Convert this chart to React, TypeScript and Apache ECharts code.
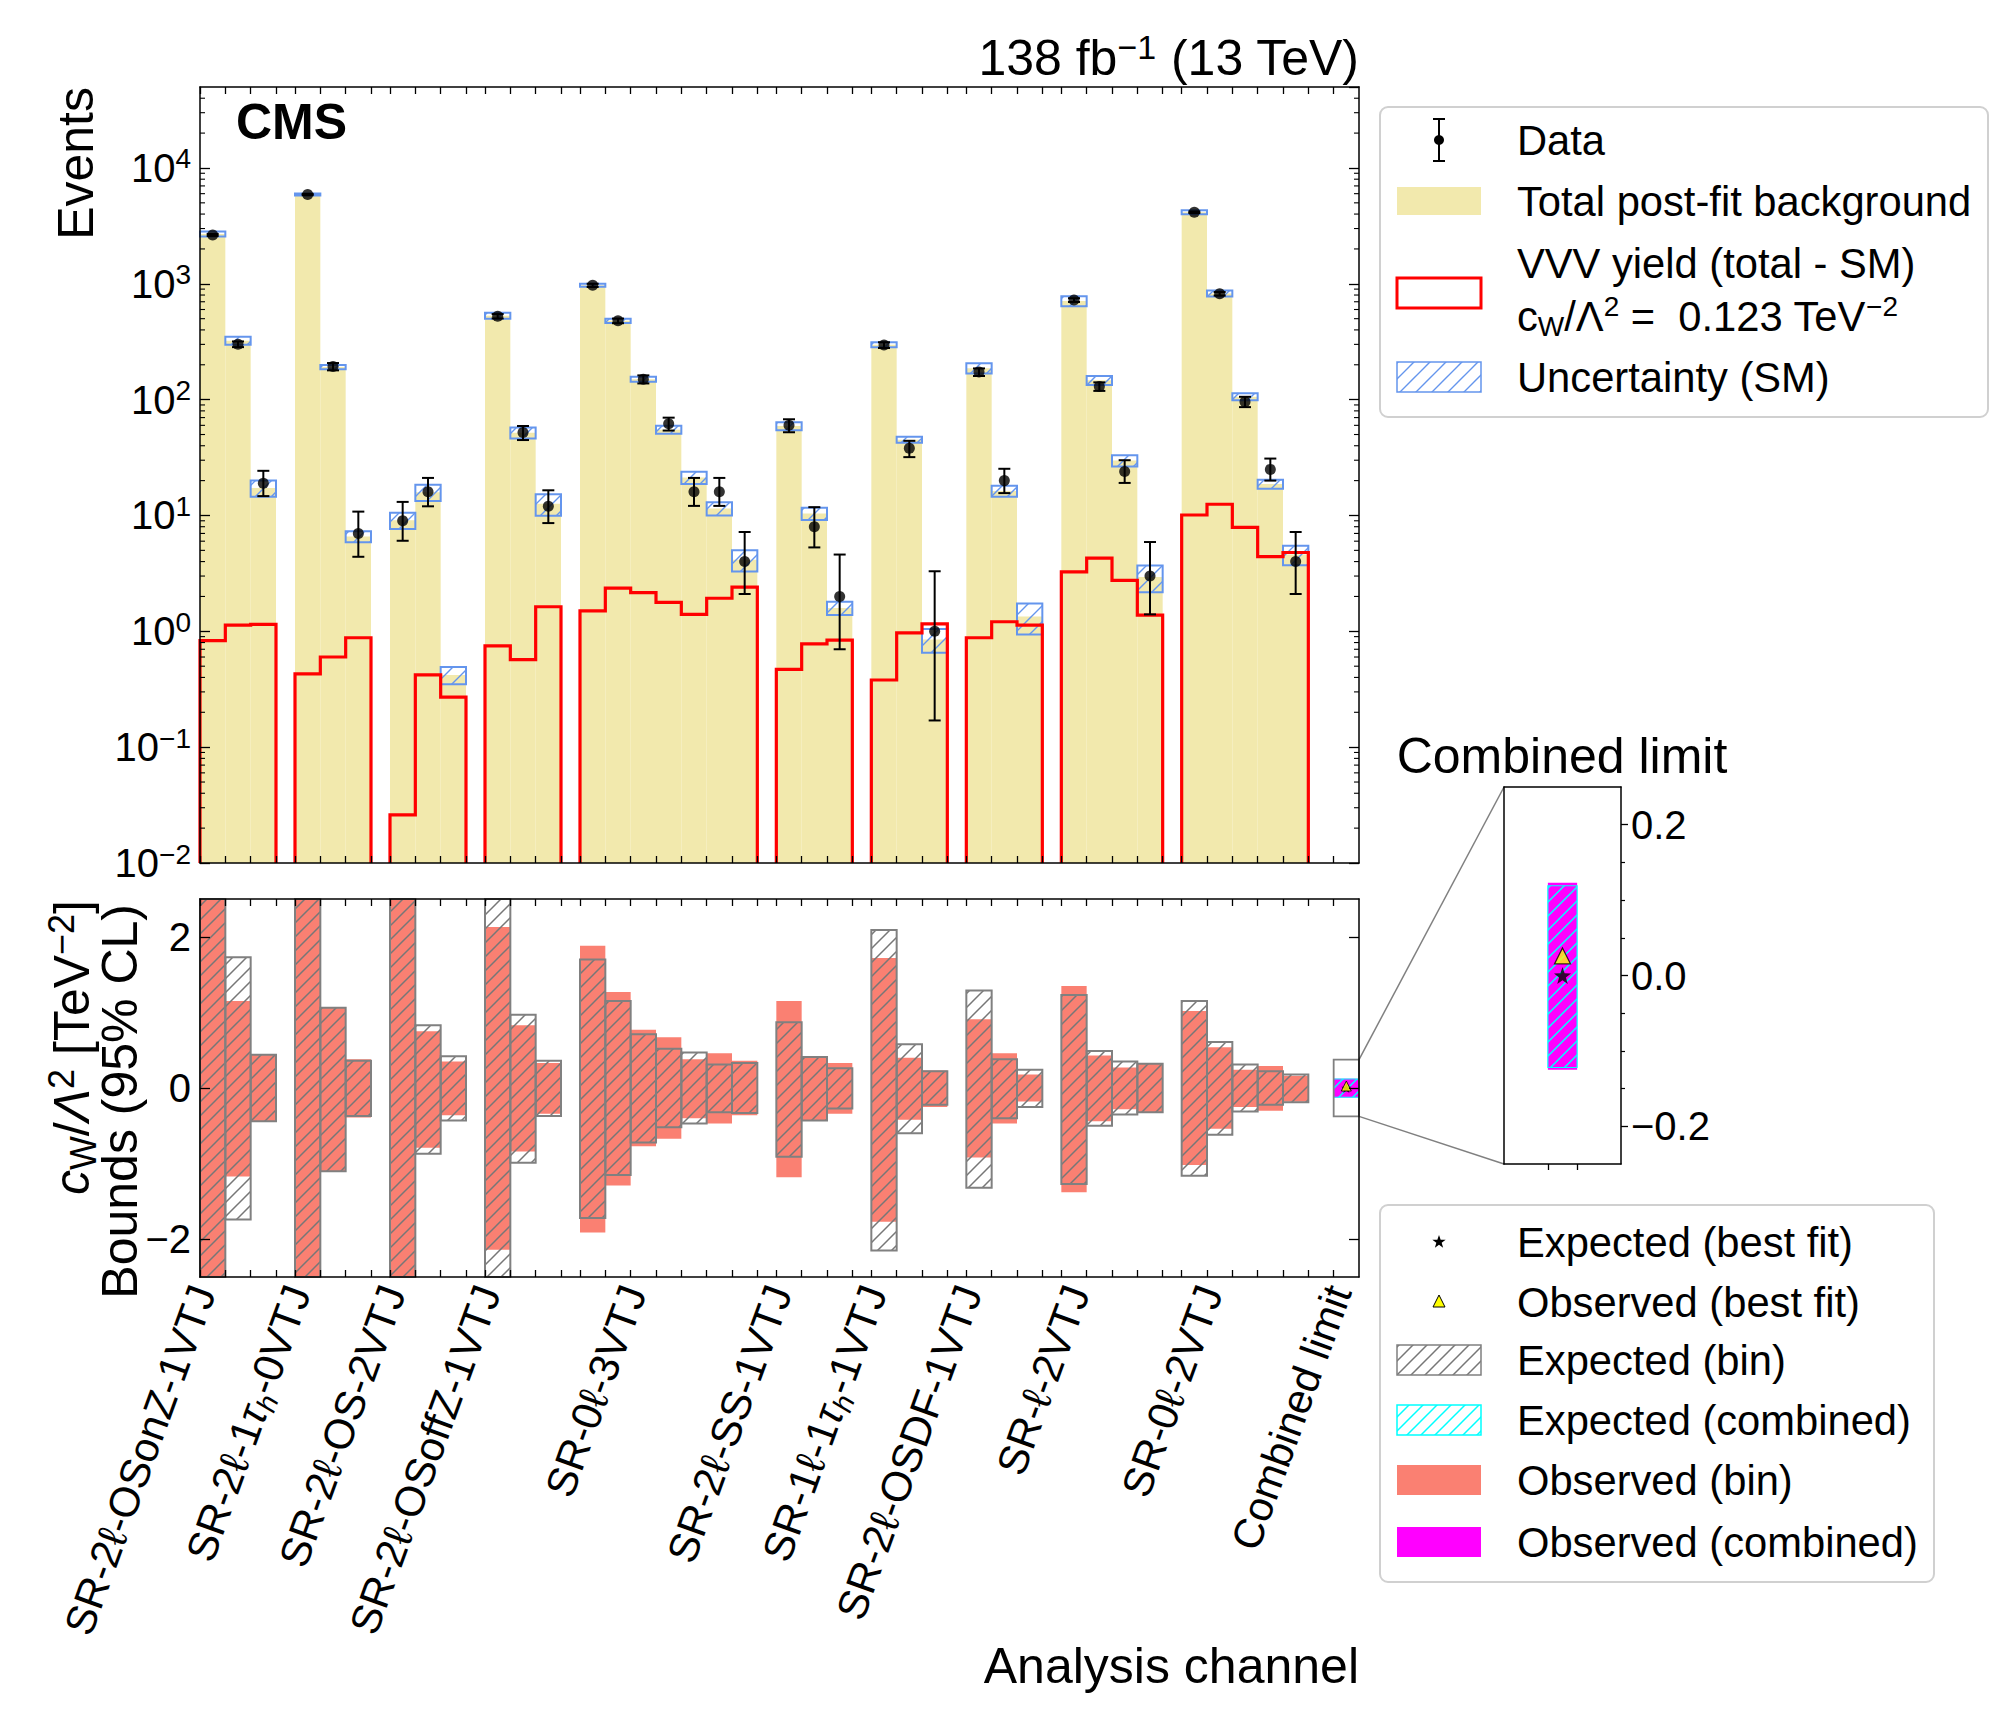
import React, { useEffect, useRef } from 'react';
import * as echarts from 'echarts';

const FONT = '"Liberation Sans", Arial, Helvetica, sans-serif';

// Analysis channels (x-axis groups) and bins per channel
const channelNames = [
  'SR-2ℓ-OSonZ-1VTJ', 'SR-2ℓ-1τh-0VTJ', 'SR-2ℓ-OS-2VTJ', 'SR-2ℓ-OSoffZ-1VTJ', 'SR-0ℓ-3VTJ',
  'SR-2ℓ-SS-1VTJ', 'SR-1ℓ-1τh-1VTJ', 'SR-2ℓ-OSDF-1VTJ', 'SR-ℓ-2VTJ', 'SR-0ℓ-2VTJ', 'Combined limit',
];
const binsPerChannel = [3, 3, 3, 3, 7, 3, 3, 3, 4, 5];

// Upper panel: event yields per bin
const postFitBackground = [
  2690, 323, 17.3, 5910, 191, 6.6, 9.1, 15.9, 0.42, 530, 51.9, 12.6,
  970, 479, 150, 55.1, 21.3, 11.5, 4.15, 59.1, 10.4, 1.59, 298, 45.1, 0.85,
  187, 16.3, 1.34, 710, 147, 29.8, 2.94, 4150, 826, 106, 18.7, 4.6,
];
const backgroundRelUnc = [
  0.05, 0.08, 0.16, 0.02, 0.04, 0.11, 0.16, 0.16, 0.17, 0.06, 0.11, 0.21,
  0.03, 0.04, 0.05, 0.08, 0.12, 0.13, 0.21, 0.08, 0.12, 0.13, 0.05, 0.06, 0.23,
  0.10, 0.11, 0.30, 0.10, 0.09, 0.11, 0.26, 0.04, 0.06, 0.07, 0.09, 0.19,
];
const vvvYield = [
  0.83, 1.13, 1.15, 0.43, 0.60, 0.88, 0.026, 0.42, 0.27, 0.75, 0.57, 1.63,
  1.50, 2.36, 2.16, 1.78, 1.40, 1.93, 2.41, 0.47, 0.78, 0.84, 0.38, 0.97, 1.16,
  0.88, 1.21, 1.13, 3.26, 4.28, 2.75, 1.38, 10.1, 12.5, 7.9, 4.42, 4.79,
];
const observedEvents: (number | null)[] = [
  2640, 301, 19, 5900, 193, 7, 9, 16, null, 525, 52, 12,
  970, 479, 150, 62, 16, 16, 4, 60, 8, 2, 296, 38, 1,
  173, 20, null, 724, 130, 24, 3, 4150, 820, 96, 25, 4,
];
const observedErrDown: (number | null)[] = [
  51, 17, 4.3, 77, 14, 2.6, 2.95, 4.0, null, 23, 7.2, 3.4,
  31, 22, 12, 7.9, 3.9, 3.9, 1.9, 7.7, 2.7, 1.3, 17, 6.1, 0.83,
  13, 4.4, null, 27, 11, 4.9, 1.6, 64, 29, 9.8, 5.0, 1.9,
];
const observedErrUp: (number | null)[] = [
  51, 17, 5.3, 77, 14, 3.8, 4.1, 5.1, null, 23, 7.2, 4.5,
  31, 22, 12, 7.9, 5.1, 5.1, 3.2, 7.7, 3.8, 2.6, 17, 6.1, 2.3,
  13, 5.3, null, 27, 11, 6.0, 2.9, 64, 29, 9.8, 6.0, 3.2,
];

// Lower panel: 95% CL intervals on cW/Λ² per bin [TeV^-2]
const expectedLow = [
  -3.2, -1.74, -0.44, -3.2, -1.10, -0.37, -3.2, -0.87, -0.43, -3.2, -0.99, -0.37,
  -1.72, -1.15, -0.72, -0.52, -0.47, -0.32, -0.33, -0.91, -0.43, -0.27, -2.15, -0.60, -0.22,
  -1.32, -0.40, -0.25, -1.27, -0.50, -0.35, -0.32, -1.16, -0.62, -0.31, -0.22, -0.19,
];
const expectedHigh = [
  3.2, 1.73, 0.44, 3.2, 1.06, 0.36, 3.2, 0.83, 0.42, 3.2, 0.97, 0.36,
  1.70, 1.15, 0.71, 0.52, 0.47, 0.31, 0.33, 0.87, 0.41, 0.26, 2.09, 0.58, 0.22,
  1.29, 0.38, 0.24, 1.23, 0.49, 0.35, 0.32, 1.15, 0.61, 0.31, 0.22, 0.18,
];
const observedLow = [
  -3.2, -1.17, -0.44, -3.2, -1.10, -0.39, -3.2, -0.79, -0.36, -2.14, -0.84, -0.34,
  -1.91, -1.29, -0.77, -0.67, -0.40, -0.47, -0.36, -1.18, -0.43, -0.34, -1.77, -0.42, -0.25,
  -0.92, -0.47, -0.18, -1.38, -0.44, -0.28, -0.32, -1.02, -0.54, -0.25, -0.30, -0.18,
];
const observedHigh = [
  3.2, 1.15, 0.44, 3.2, 1.07, 0.38, 3.2, 0.75, 0.35, 2.13, 0.83, 0.33,
  1.88, 1.27, 0.77, 0.67, 0.38, 0.46, 0.36, 1.15, 0.40, 0.33, 1.72, 0.40, 0.23,
  0.91, 0.46, 0.18, 1.35, 0.43, 0.27, 0.32, 1.02, 0.54, 0.24, 0.29, 0.16,
];
const combinedExpected = [-0.122, 0.119];
const combinedObserved = [-0.125, 0.123];
const combinedExpectedBestFit = 0.0;
const combinedObservedBestFit = 0.026;

// Tick values
const lowerTicks = [-2, 0, 2];
const insetMajorTicks = [-0.2, 0, 0.2];
const insetMinorTicks = [-0.15, -0.1, -0.05, 0.05, 0.1, 0.15];

// ---- layout of bins along x ----
const GAP = 0.75;
const COMBINED_GAP = 1.0;
const LABEL_SHIFT = -1.38;
const COMBINED_LABEL_SHIFT = -0.3;
const INDICATOR_HALF = 0.375;

const binLeft: number[] = [];
const channelStart: number[] = [];
const channelCenter: number[] = [];
let cursor = 0;
binsPerChannel.forEach((n, g) => {
  if (g > 0) cursor += GAP;
  channelStart.push(cursor);
  channelCenter.push(cursor + n / 2);
  for (let k = 0; k < n; k++) binLeft.push(cursor + k);
  cursor += n;
});
const combinedLeft = cursor + COMBINED_GAP;
const X_MAX = combinedLeft + 1;
const binEdges: number[] = [];
binLeft.forEach((x) => {
  if (!binEdges.some((e) => Math.abs(e - x) < 1e-9)) binEdges.push(x);
  binEdges.push(x + 1);
});
binEdges.push(combinedLeft);
const labelPositions = channelCenter.map((c) => c + LABEL_SHIFT);
labelPositions.push(combinedLeft + 0.5 + COMBINED_LABEL_SHIFT);
const insetMin = combinedLeft - 1.5;
const insetMax = X_MAX + 1.5;

const KHAKI = '#F2E9AD';
const RED = '#FF0000';
const BLUE = '#6495ED';
const SALMON = '#FA8072';
const GREY = '#808080';
const MAGENTA = '#FF00FF';
const CYAN = '#00FFFF';
const LEGEND_FONT = 41.7;

function starPath(): string {
  const pts: string[] = [];
  for (let i = 0; i < 10; i++) {
    const r = i % 2 === 0 ? 50 : 20;
    const a = -Math.PI / 2 + (i * Math.PI) / 5;
    pts.push((50 + r * Math.cos(a)).toFixed(2) + ' ' + (50 + r * Math.sin(a)).toFixed(2));
  }
  return 'path://M' + pts.join(' L') + ' Z';
}

function starPoints(cx: number, cy: number, R: number): number[][] {
  const pts: number[][] = [];
  for (let i = 0; i < 10; i++) {
    const r = i % 2 === 0 ? R : R * 0.4;
    const a = -Math.PI / 2 + (i * Math.PI) / 5;
    pts.push([cx + r * Math.cos(a), cy + r * Math.sin(a)]);
  }
  return pts;
}

function makeHatch(color: string, size: number, width: number): any {
  const c = document.createElement('canvas');
  c.width = size;
  c.height = size;
  const ctx = c.getContext('2d') as CanvasRenderingContext2D;
  ctx.strokeStyle = color;
  ctx.lineWidth = width;
  ctx.beginPath();
  ctx.moveTo(0, size);
  ctx.lineTo(size, 0);
  ctx.moveTo(-2, 2);
  ctx.lineTo(2, -2);
  ctx.moveTo(size - 2, size + 2);
  ctx.lineTo(size + 2, size - 2);
  ctx.stroke();
  return { type: 'pattern', image: c.toDataURL(), repeat: 'repeat', imageWidth: size, imageHeight: size };
}

function clampRect(cs: any, xa: number, ya: number, xb: number, yb: number) {
  const top = Math.max(Math.min(ya, yb), cs.y);
  const bot = Math.min(Math.max(ya, yb), cs.y + cs.height);
  return { x: Math.min(xa, xb), y: top, width: Math.abs(xb - xa), height: Math.max(0, bot - top) };
}

function richChannel(s: string): string {
  return s.replace(/τh/g, '{tau|τ}{sub|h}');
}

function minusFmt(v: number, digits: number): string {
  const s = Math.abs(v).toFixed(digits);
  return v < -1e-9 ? '−' + s : s;
}

export default function App() {
  const ref = useRef<HTMLDivElement>(null);

  useEffect(() => {
    if (!ref.current) return;
    const chart = echarts.init(ref.current, null, { renderer: 'svg' });

    const hatchBlue = makeHatch(BLUE, 16, 1.4);
    const hatchGrey = makeHatch('#777777', 14, 1.5);
    const hatchCyan = makeHatch(CYAN, 14, 1.5);

    const spine = { show: true, onZero: false, lineStyle: { color: '#000', width: 1.5 } };
    const noLabel = { show: false };
    const noSplit = { show: false };

    const rectItem = (fill: any, stroke?: string, lw?: number) => (params: any, api: any) => {
      const cs = params.coordSys;
      const a = api.coord([api.value(0), api.value(3)]);
      const b = api.coord([api.value(1), api.value(2)]);
      return {
        type: 'rect',
        shape: clampRect(cs, a[0], a[1], b[0], b[1]),
        style: { fill, stroke: stroke || null, lineWidth: lw || 0 },
      };
    };

    // Upper panel series data
    const bkgData = binLeft.map((x0, i) => [x0, x0 + 1, 0.01, postFitBackground[i]]);
    const bandData = binLeft.map((x0, i) => [
      x0, x0 + 1,
      postFitBackground[i] * (1 - backgroundRelUnc[i]),
      postFitBackground[i] * (1 + backgroundRelUnc[i]),
    ]);
    const pointData: number[][] = [];
    const errData: number[][] = [];
    binLeft.forEach((x0, i) => {
      const v = observedEvents[i];
      if (v == null) return;
      pointData.push([x0 + 0.5, v]);
      errData.push([x0 + 0.5, v - (observedErrDown[i] as number), v + (observedErrUp[i] as number)]);
    });
    const minorLogTicks: number[][] = [];
    for (let e = -2; e <= 4; e++) {
      for (let k = 2; k <= 9; k++) {
        const v = k * Math.pow(10, e);
        if (v < 5e4) minorLogTicks.push([0, v]);
      }
    }

    // Lower panel series data
    const obsData = binLeft.map((x0, i) => [x0, x0 + 1, observedLow[i], observedHigh[i]]);
    const expData = binLeft.map((x0, i) => [x0, x0 + 1, expectedLow[i], expectedHigh[i]]);
    const combObs = [[combinedLeft, X_MAX, combinedObserved[0], combinedObserved[1]]];
    const combExp = [[combinedLeft, X_MAX, combinedExpected[0], combinedExpected[1]]];
    const combCenter = combinedLeft + 0.5;

    const labelRich = {
      tau: { fontStyle: 'italic', fontSize: 42, lineHeight: 50 },
      sub: { fontStyle: 'italic', fontSize: 28, lineHeight: 28, verticalAlign: 'bottom' },
    };

    const xTickBase = (grid: number, pos: string, extra: any = {}) => ({
      type: 'value', gridIndex: grid, min: 0, max: X_MAX, position: pos,
      axisLine: spine,
      axisTick: { show: true, inside: true, length: 7, customValues: binEdges, lineStyle: { color: '#000', width: 1.3 } },
      axisLabel: noLabel, splitLine: noSplit, z: 10, ...extra,
    });

    const option: any = {
      animation: false,
      backgroundColor: '#ffffff',
      textStyle: { fontFamily: FONT },
      grid: [
        { left: 200, top: 87, width: 1159, height: 776 },
        { left: 200, top: 899, width: 1159, height: 378 },
        { left: 1504, top: 787, width: 117, height: 377 },
      ],
      xAxis: [
        xTickBase(0, 'bottom'),
        xTickBase(0, 'top'),
        xTickBase(1, 'bottom', {
          axisLabel: {
            show: true, customValues: labelPositions, rotate: 70, margin: 10,
            fontSize: 42, fontFamily: FONT, color: '#000', lineHeight: 50,
            formatter: (v: number) => {
              const i = labelPositions.findIndex((p) => Math.abs(p - v) < 1e-6);
              return i < 0 ? '' : richChannel(channelNames[i]);
            },
            rich: labelRich,
          },
        }),
        xTickBase(1, 'top'),
        {
          type: 'value', gridIndex: 2, min: insetMin, max: insetMax, position: 'bottom',
          axisLine: spine,
          axisTick: { show: true, inside: false, length: 6, customValues: [combinedLeft, X_MAX], lineStyle: { color: '#000', width: 1.3 } },
          axisLabel: noLabel, splitLine: noSplit, z: 10,
        },
        {
          type: 'value', gridIndex: 2, min: insetMin, max: insetMax, position: 'top',
          axisLine: spine, axisTick: { show: false }, axisLabel: noLabel, splitLine: noSplit, z: 10,
        },
      ],
      yAxis: [
        {
          type: 'log', logBase: 10, gridIndex: 0, min: 0.01, max: 5e4, position: 'left',
          axisLine: spine,
          axisTick: { show: true, inside: true, length: 10, lineStyle: { color: '#000', width: 1.3 } },
          axisLabel: {
            show: true, fontSize: 40, fontFamily: FONT, color: '#000', margin: 9, lineHeight: 46,
            showMaxLabel: false,
            formatter: (v: number) => {
              const l = Math.log10(v);
              const e = Math.round(l);
              if (Math.abs(l - e) > 1e-6) return '';
              return '10{sup|' + (e < 0 ? '−' + -e : String(e)) + '}';
            },
            rich: { sup: { fontSize: 28, lineHeight: 28, verticalAlign: 'top' } },
          },
          splitLine: noSplit, z: 10,
        },
        {
          type: 'log', logBase: 10, gridIndex: 0, min: 0.01, max: 5e4, position: 'right',
          axisLine: spine,
          axisTick: { show: true, inside: true, length: 10, lineStyle: { color: '#000', width: 1.3 } },
          axisLabel: noLabel, splitLine: noSplit, z: 10,
        },
        {
          type: 'value', gridIndex: 1, min: -2.5, max: 2.5, position: 'left',
          axisLine: spine,
          axisTick: { show: true, inside: true, length: 10, customValues: lowerTicks, lineStyle: { color: '#000', width: 1.3 } },
          axisLabel: {
            show: true, customValues: lowerTicks, fontSize: 40, fontFamily: FONT, color: '#000', margin: 9,
            formatter: (v: number) => minusFmt(v, 0),
          },
          splitLine: noSplit, z: 10,
        },
        {
          type: 'value', gridIndex: 1, min: -2.5, max: 2.5, position: 'right',
          axisLine: spine,
          axisTick: { show: true, inside: true, length: 10, customValues: lowerTicks, lineStyle: { color: '#000', width: 1.3 } },
          axisLabel: noLabel, splitLine: noSplit, z: 10,
        },
        {
          type: 'value', gridIndex: 2, min: -0.25, max: 0.25, position: 'right',
          axisLine: spine,
          axisTick: { show: true, inside: false, length: 7, customValues: insetMajorTicks, lineStyle: { color: '#000', width: 1.3 } },
          axisLabel: {
            show: true, customValues: insetMajorTicks, fontSize: 40, fontFamily: FONT, color: '#000', margin: 10,
            formatter: (v: number) => minusFmt(v, 1),
          },
          splitLine: noSplit, z: 10,
        },
        {
          type: 'value', gridIndex: 2, min: -0.25, max: 0.25, position: 'left',
          axisLine: spine, axisTick: { show: false }, axisLabel: noLabel, splitLine: noSplit, z: 10,
        },
        {
          type: 'value', gridIndex: 2, min: -0.25, max: 0.25, position: 'right', offset: 0,
          axisLine: { show: false, onZero: false },
          axisTick: { show: true, inside: false, length: 4, customValues: insetMinorTicks, lineStyle: { color: '#000', width: 1.2 } },
          axisLabel: noLabel, splitLine: noSplit, z: 10,
        },
      ],
      series: [
        // ---- upper panel ----
        {
          name: 'Total post-fit background', type: 'custom', xAxisIndex: 0, yAxisIndex: 0, silent: true, z: 1,
          data: bkgData, renderItem: rectItem(KHAKI),
        },
        {
          name: 'Uncertainty (SM)', type: 'custom', xAxisIndex: 0, yAxisIndex: 0, silent: true, z: 2,
          data: bandData, renderItem: rectItem(hatchBlue, BLUE, 2),
        },
        {
          name: 'VVV yield', type: 'custom', xAxisIndex: 0, yAxisIndex: 0, silent: true, z: 3,
          data: binsPerChannel.map((_, g) => [g, 1]),
          renderItem: (params: any, api: any) => {
            const g = api.value(0);
            const cs = params.coordSys;
            const bottom = cs.y + cs.height;
            const first = channelStart[g];
            const offset = binsPerChannel.slice(0, g).reduce((s, n) => s + n, 0);
            const pts: number[][] = [[api.coord([first, 1])[0], bottom]];
            for (let k = 0; k < binsPerChannel[g]; k++) {
              const v = vvvYield[offset + k];
              pts.push(api.coord([first + k, v]));
              pts.push(api.coord([first + k + 1, v]));
            }
            pts.push([api.coord([first + binsPerChannel[g], 1])[0], bottom]);
            return { type: 'polyline', shape: { points: pts }, style: { stroke: RED, lineWidth: 3.2, fill: null } };
          },
        },
        {
          name: 'Data errors', type: 'custom', xAxisIndex: 0, yAxisIndex: 0, silent: true, z: 4,
          data: errData,
          renderItem: (params: any, api: any) => {
            const lo = api.coord([api.value(0), api.value(1)]);
            const hi = api.coord([api.value(0), api.value(2)]);
            const st = { stroke: '#000', lineWidth: 2 };
            return {
              type: 'group',
              children: [
                { type: 'line', shape: { x1: lo[0], y1: lo[1], x2: hi[0], y2: hi[1] }, style: st },
                { type: 'line', shape: { x1: lo[0] - 6, y1: lo[1], x2: lo[0] + 6, y2: lo[1] }, style: st },
                { type: 'line', shape: { x1: hi[0] - 6, y1: hi[1], x2: hi[0] + 6, y2: hi[1] }, style: st },
              ],
            };
          },
        },
        {
          name: 'Data', type: 'scatter', xAxisIndex: 0, yAxisIndex: 0, silent: true, z: 5,
          data: pointData, symbol: 'circle', symbolSize: 11, itemStyle: { color: '#000' },
        },
        {
          name: 'minor log ticks', type: 'custom', xAxisIndex: 0, yAxisIndex: 0, silent: true, z: 9,
          data: minorLogTicks,
          renderItem: (params: any, api: any) => {
            const cs = params.coordSys;
            const y = api.coord([0, api.value(1)])[1];
            const st = { stroke: '#000', lineWidth: 1.1 };
            return {
              type: 'group',
              children: [
                { type: 'line', shape: { x1: cs.x, y1: y, x2: cs.x + 5, y2: y }, style: st },
                { type: 'line', shape: { x1: cs.x + cs.width - 5, y1: y, x2: cs.x + cs.width, y2: y }, style: st },
              ],
            };
          },
        },
        // ---- lower panel ----
        {
          name: 'Observed (bin)', type: 'custom', xAxisIndex: 2, yAxisIndex: 2, silent: true, z: 1,
          data: obsData, renderItem: rectItem(SALMON),
        },
        {
          name: 'Expected (bin)', type: 'custom', xAxisIndex: 2, yAxisIndex: 2, silent: true, z: 2,
          data: expData, renderItem: rectItem(hatchGrey, GREY, 2),
        },
        {
          name: 'Observed (combined)', type: 'custom', xAxisIndex: 2, yAxisIndex: 2, silent: true, z: 3,
          data: combObs, renderItem: rectItem(MAGENTA),
        },
        {
          name: 'Expected (combined)', type: 'custom', xAxisIndex: 2, yAxisIndex: 2, silent: true, z: 4,
          data: combExp, renderItem: rectItem(hatchCyan, CYAN, 1),
        },
        {
          name: 'zoom indicator', type: 'custom', xAxisIndex: 2, yAxisIndex: 2, silent: true, z: 5,
          data: [[combinedLeft, X_MAX, -INDICATOR_HALF, INDICATOR_HALF]],
          renderItem: rectItem('none', GREY, 1.8),
        },
        {
          name: 'Expected (best fit)', type: 'scatter', xAxisIndex: 2, yAxisIndex: 2, silent: true, z: 6,
          data: [[combCenter, combinedExpectedBestFit]], symbol: starPath(), symbolSize: 10,
          itemStyle: { color: '#000' },
        },
        {
          name: 'Observed (best fit)', type: 'scatter', xAxisIndex: 2, yAxisIndex: 2, silent: true, z: 7,
          data: [[combCenter, combinedObservedBestFit]], symbol: 'triangle', symbolSize: 10,
          itemStyle: { color: '#FFFF00', borderColor: '#000', borderWidth: 1 },
        },
        // ---- inset ----
        {
          name: 'inset observed', type: 'custom', xAxisIndex: 4, yAxisIndex: 4, silent: true, z: 3,
          data: combObs, renderItem: rectItem(MAGENTA),
        },
        {
          name: 'inset expected', type: 'custom', xAxisIndex: 4, yAxisIndex: 4, silent: true, z: 4,
          data: combExp, renderItem: rectItem(hatchCyan, CYAN, 1.2),
        },
        {
          name: 'inset expected best fit', type: 'scatter', xAxisIndex: 4, yAxisIndex: 4, silent: true, z: 6,
          data: [[combCenter, combinedExpectedBestFit]], symbol: starPath(), symbolSize: 17,
          itemStyle: { color: '#000' },
        },
        {
          name: 'inset observed best fit', type: 'scatter', xAxisIndex: 4, yAxisIndex: 4, silent: true, z: 7,
          data: [[combCenter, combinedObservedBestFit]], symbol: 'triangle', symbolSize: 16,
          itemStyle: { color: '#FFFF00', borderColor: '#000', borderWidth: 1.2 },
        },
      ],
    };

    chart.setOption(option);

    const txt = (x: number, y: number, text: string, extra: any = {}, el: any = {}) => ({
      type: 'text', x, y, silent: true, ...el,
      style: { text, fontSize: LEGEND_FONT, fontFamily: FONT, fill: '#000', align: 'left', verticalAlign: 'middle', ...extra },
    });
    const mathRich = {
      it: { fontStyle: 'italic' },
      sub: { fontSize: 28, lineHeight: 28, verticalAlign: 'bottom' },
      sup: { fontSize: 28, lineHeight: 28, verticalAlign: 'top' },
    };
    const lx0 = 1397;
    const lw = 84;
    const lmx = 1439;
    const ltx = 1517;

    const graphics: any[] = [
      txt(236, 122, 'CMS', { fontSize: 50, fontWeight: 'bold' }),
      txt(1359, 58, '138 fb{sup|−1} (13 TeV)', {
        fontSize: 50, align: 'right', lineHeight: 56,
        rich: { sup: { fontSize: 34, lineHeight: 34, verticalAlign: 'top' } },
      }),
      txt(1359, 1666, 'Analysis channel', { fontSize: 50, align: 'right' }),
      txt(1562, 756, 'Combined limit', { fontSize: 50, align: 'center' }),
      txt(76, 87, 'Events', { fontSize: 50, align: 'right' }, { rotation: Math.PI / 2 }),
      txt(72, 900, '{it|c}{sub|W}/{it|Λ}{sup|2} [TeV{sup|−2}]', {
        fontSize: 50, align: 'right', lineHeight: 58,
        rich: {
          it: { fontStyle: 'italic', fontSize: 50 },
          sub: { fontSize: 36, lineHeight: 36, verticalAlign: 'bottom' },
          sup: { fontSize: 36, lineHeight: 36, verticalAlign: 'top' },
        },
      }, { rotation: Math.PI / 2 }),
      txt(120, 904, 'Bounds (95% CL)', { fontSize: 50, align: 'right' }, { rotation: Math.PI / 2 }),

      // upper legend
      { type: 'rect', silent: true, shape: { x: 1380, y: 107, width: 608, height: 310, r: 8 }, style: { fill: '#fff', stroke: '#d0d0d0', lineWidth: 2 } },
      { type: 'line', silent: true, shape: { x1: lmx, y1: 119, x2: lmx, y2: 161 }, style: { stroke: '#000', lineWidth: 2 } },
      { type: 'line', silent: true, shape: { x1: lmx - 6, y1: 119, x2: lmx + 6, y2: 119 }, style: { stroke: '#000', lineWidth: 2 } },
      { type: 'line', silent: true, shape: { x1: lmx - 6, y1: 161, x2: lmx + 6, y2: 161 }, style: { stroke: '#000', lineWidth: 2 } },
      { type: 'circle', silent: true, shape: { cx: lmx, cy: 140, r: 5 }, style: { fill: '#000' } },
      txt(ltx, 140, 'Data'),
      { type: 'rect', silent: true, shape: { x: lx0, y: 187, width: lw, height: 28 }, style: { fill: KHAKI } },
      txt(ltx, 201, 'Total post-fit background'),
      { type: 'rect', silent: true, shape: { x: lx0, y: 278, width: lw, height: 30 }, style: { fill: 'none', stroke: RED, lineWidth: 3 } },
      txt(ltx, 263, 'VVV yield (total - SM)'),
      txt(ltx, 316, '{it|c}{sub|W}/{it|Λ}{sup|2} =  0.123 TeV{sup|−2}', { lineHeight: 48, rich: mathRich }),
      { type: 'rect', silent: true, shape: { x: lx0, y: 362, width: lw, height: 30 }, style: { fill: hatchBlue, stroke: BLUE, lineWidth: 1.5 } },
      txt(ltx, 377, 'Uncertainty (SM)'),

      // lower legend
      { type: 'rect', silent: true, shape: { x: 1380, y: 1205, width: 554, height: 377, r: 8 }, style: { fill: '#fff', stroke: '#d0d0d0', lineWidth: 2 } },
      { type: 'polygon', silent: true, shape: { points: starPoints(lmx, 1242, 7) }, style: { fill: '#000' } },
      txt(ltx, 1242, 'Expected (best fit)'),
      { type: 'polygon', silent: true, shape: { points: [[lmx, 1295], [lmx - 6, 1307], [lmx + 6, 1307]] }, style: { fill: '#FFFF00', stroke: '#000', lineWidth: 1 } },
      txt(ltx, 1302, 'Observed (best fit)'),
      { type: 'rect', silent: true, shape: { x: lx0, y: 1345, width: lw, height: 30 }, style: { fill: hatchGrey, stroke: GREY, lineWidth: 1.5 } },
      txt(ltx, 1360, 'Expected (bin)'),
      { type: 'rect', silent: true, shape: { x: lx0, y: 1405, width: lw, height: 30 }, style: { fill: hatchCyan, stroke: CYAN, lineWidth: 1.5 } },
      txt(ltx, 1420, 'Expected (combined)'),
      { type: 'rect', silent: true, shape: { x: lx0, y: 1465, width: lw, height: 30 }, style: { fill: SALMON } },
      txt(ltx, 1480, 'Observed (bin)'),
      { type: 'rect', silent: true, shape: { x: lx0, y: 1527, width: lw, height: 30 }, style: { fill: MAGENTA } },
      txt(ltx, 1542, 'Observed (combined)'),
    ];

    // connector lines from the zoom indicator to the inset
    const a1 = chart.convertToPixel({ xAxisIndex: 2, yAxisIndex: 2 } as any, [X_MAX, INDICATOR_HALF]) as number[];
    const a2 = chart.convertToPixel({ xAxisIndex: 2, yAxisIndex: 2 } as any, [X_MAX, -INDICATOR_HALF]) as number[];
    const b1 = chart.convertToPixel({ xAxisIndex: 4, yAxisIndex: 4 } as any, [insetMin, 0.25]) as number[];
    const b2 = chart.convertToPixel({ xAxisIndex: 4, yAxisIndex: 4 } as any, [insetMin, -0.25]) as number[];
    if (a1 && b1) {
      graphics.push({ type: 'line', silent: true, shape: { x1: a1[0], y1: a1[1], x2: b1[0], y2: b1[1] }, style: { stroke: GREY, lineWidth: 1.5 } });
    }
    if (a2 && b2) {
      graphics.push({ type: 'line', silent: true, shape: { x1: a2[0], y1: a2[1], x2: b2[0], y2: b2[1] }, style: { stroke: GREY, lineWidth: 1.5 } });
    }

    chart.setOption({ graphic: graphics });

    return () => chart.dispose();
  }, []);

  return (
    <div
      ref={ref}
      style={{ position: 'fixed', left: 0, top: 0, width: 1999, height: 1729, background: '#fff' }}
    />
  );
}
